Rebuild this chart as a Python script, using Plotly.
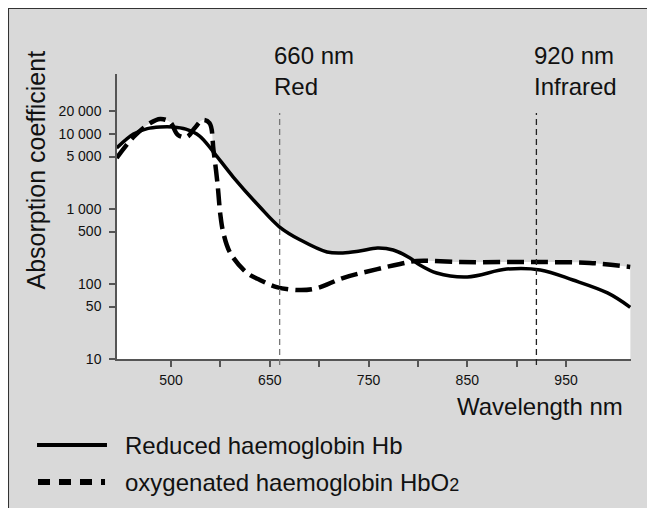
import plotly.graph_objects as go

# ---- data ----
wavelength_hb = [495, 512, 526, 539, 552, 565, 579, 593, 613, 640, 660, 681, 708, 724,
                 741, 759, 775, 792, 802, 819, 850, 890, 924, 957, 992, 1015]
hb_values = [6500, 10000, 11800, 12400, 12400, 11600, 9400, 5750, 2670, 1063, 575,
             386, 267, 259, 275, 302, 284, 222, 179, 140, 124, 158, 154, 113, 76, 49]

wavelength_hbo2 = [495, 512, 529, 539, 549, 557, 566, 574, 582, 589, 593, 597, 600,
                   603, 610, 627, 640, 657, 681, 698, 724, 759, 782, 799, 843, 890,
                   924, 974, 1015]
hbo2_values = [4790, 9120, 14000, 15850, 14450, 9700, 9120, 12020, 15380, 14000,
               6120, 2220, 832, 479, 259, 140, 113, 91, 83, 88, 120, 158, 185, 203,
               196, 196, 196, 191, 169]

x_tick_vals = [550, 600, 650, 700, 750, 800, 850, 900, 950]
x_tick_text = ["500", "", "650", "", "750", "", "850", "", "950"]
y_tick_vals = [10, 50, 100, 500, 1000, 5000, 10000, 20000]
y_tick_text = ["10", "50", "100", "500", "1 000", "5 000", "10 000", "20 000"]

marker_wavelengths = [660, 920]
marker_labels = ["660 nm<br>Red", "920 nm<br>Infrared"]

series_names = ["Reduced haemoglobin Hb",
                "oxygenated haemoglobin HbO<span style='font-size:18px'>2</span>"]

BG = "#d9d9d9"
FONT = "Liberation Sans, Arial, Helvetica, sans-serif"

fig = go.Figure()

# white area under the curves
for xs, ys in [(wavelength_hb, hb_values), (wavelength_hbo2, hbo2_values)]:
    fig.add_trace(go.Scatter(x=xs, y=ys, mode="none", fill="tozeroy",
                             fillcolor="white", line_shape="spline",
                             hoverinfo="skip", showlegend=False))

fig.add_trace(go.Scatter(x=wavelength_hb, y=hb_values, mode="lines",
                         line=dict(color="black", width=3.5, shape="spline"),
                         name=series_names[0], showlegend=False))
fig.add_trace(go.Scatter(x=wavelength_hbo2, y=hbo2_values, mode="lines",
                         line=dict(color="black", width=4.5, shape="spline",
                                   dash="17px,7px"),
                         name=series_names[1], showlegend=False))

shapes = []
# figure frame (top and left edges visible)
shapes.append(dict(type="rect", xref="paper", yref="paper", x0=-0.212, x1=1.3,
                   y0=-0.8, y1=1.2316, fillcolor="rgba(0,0,0,0)",
                   line=dict(color="#333", width=2), layer="below"))
# vertical guide lines
for wl, col in zip(marker_wavelengths, ["#777", "#222"]):
    shapes.append(dict(type="line", xref="x", yref="paper", x0=wl, x1=wl,
                       y0=-0.021, y1=0.863, line=dict(color=col, width=1.3, dash="6px,4px")))
# manual legend samples
shapes.append(dict(type="line", xref="paper", yref="paper", x0=-0.1556, x1=-0.0195,
                   y0=-0.302, y1=-0.302, line=dict(color="black", width=4)))
shapes.append(dict(type="line", xref="paper", yref="paper", x0=-0.1537, x1=-0.0233,
                   y0=-0.4316, y1=-0.4316, line=dict(color="black", width=6, dash="12px,9px")))

annotations = []
for wl, lab, xp in zip(marker_wavelengths, marker_labels, [0.3016, 0.807]):
    annotations.append(dict(text=lab, xref="paper", yref="paper", x=xp, y=1.0105,
                            xanchor="left", yanchor="middle", align="left",
                            showarrow=False, font=dict(size=24, color="#111", family=FONT)))
annotations.append(dict(text="Wavelength nm", xref="paper", yref="paper", x=0.988, y=-0.165,
                        xanchor="right", yanchor="middle", showarrow=False,
                        font=dict(size=24, color="#111", family=FONT)))
annotations.append(dict(text="Absorption coefficient", xref="paper", yref="paper",
                        x=-0.1576, y=0.665, textangle=-90, xanchor="center",
                        yanchor="middle", showarrow=False,
                        font=dict(size=25, color="#111", family=FONT)))
for name, yp in zip(series_names, [-0.302, -0.4316]):
    annotations.append(dict(text=name, xref="paper", yref="paper", x=0.0117, y=yp,
                            xanchor="left", yanchor="middle", align="left",
                            showarrow=False, font=dict(size=24, color="#111", family=FONT)))

fig.update_layout(
    width=655, height=508,
    margin=dict(l=109, r=32, t=66, b=157),
    paper_bgcolor=BG, plot_bgcolor=BG,
    font=dict(family=FONT, color="#111"),
    shapes=shapes, annotations=annotations,
    showlegend=False,
)
fig.update_xaxes(range=[495.3, 1015.8], tickvals=x_tick_vals, ticktext=x_tick_text,
                 showgrid=False, zeroline=False, showline=True, linecolor="#555",
                 linewidth=1.5, ticks="outside", ticklen=6, tickcolor="#555",
                 tickwidth=1.5, tickfont=dict(size=14, color="#111"),
                 ticklabelstandoff=1)
fig.update_yaxes(type="log", range=[1, 4.8], tickvals=y_tick_vals, ticktext=y_tick_text,
                 showgrid=False, zeroline=False, showline=True, linecolor="#555",
                 linewidth=1.5, ticks="outside", ticklen=6, tickcolor="#555",
                 tickwidth=1.5, tickfont=dict(size=14, color="#111"),
                 ticklabelstandoff=5)

fig.write_html("out.html")
